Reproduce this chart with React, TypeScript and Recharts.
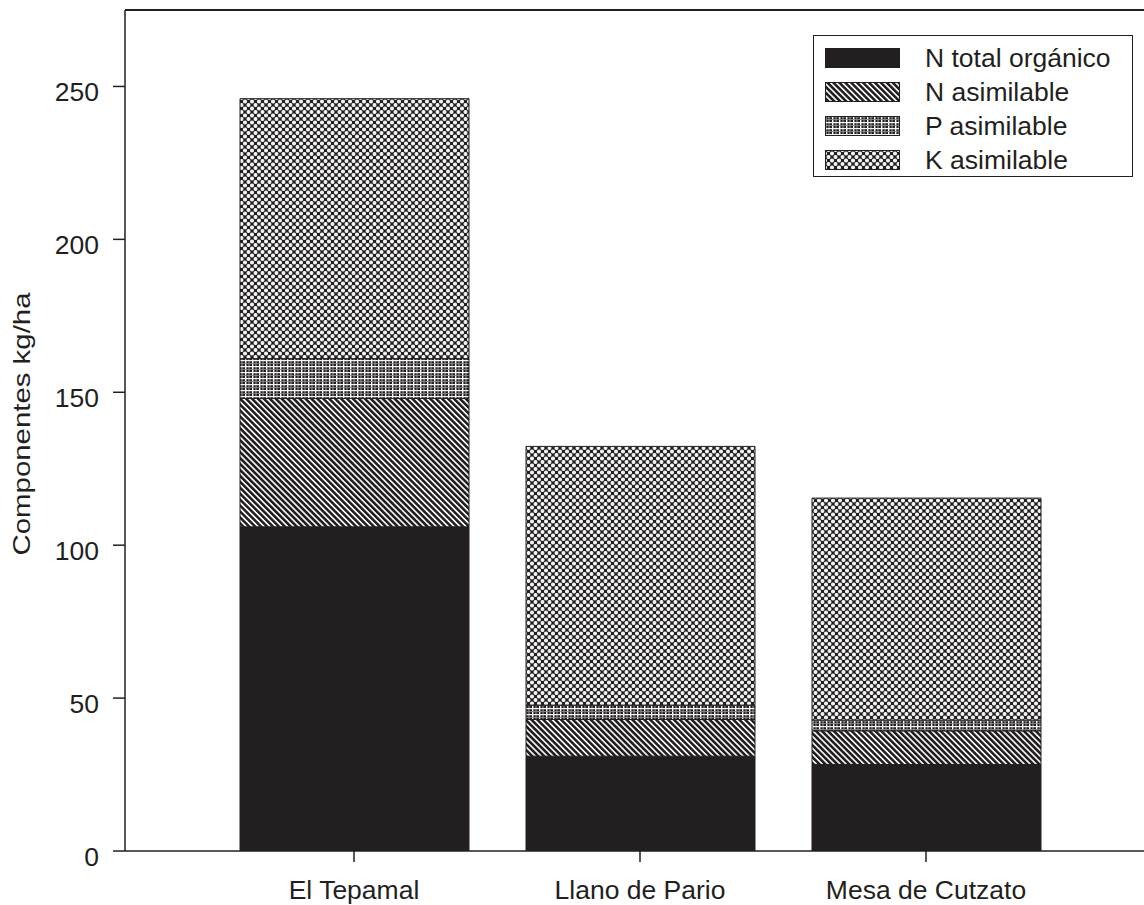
import React from "react";
import {
  BarChart,
  Bar,
  XAxis,
  YAxis,
  ReferenceLine,
} from "recharts";

const categories = ["El Tepamal", "Llano de Pario", "Mesa de Cutzato"];
const nTotalOrganico = [106, 31, 28.3];
const nAsimilable = [42, 12, 11];
const pAsimilable = [13, 4.7, 3.5];
const kAsimilable = [85, 84.6, 72.6];
const yTicks = [0, 50, 100, 150, 200, 250];

const seriesNames = ["N total orgánico", "N asimilable", "P asimilable", "K asimilable"];

const data = categories.map((c, i) => ({
  name: c,
  nTotal: nTotalOrganico[i],
  nAsim: nAsimilable[i],
  pAsim: pAsimilable[i],
  kAsim: kAsimilable[i],
}));

const INK = "#231f20";
const FONT = "'Liberation Sans', Arial, Helvetica, sans-serif";
const FS = 26.5;

const fills = ["url(#patSolid)", "url(#patStripe)", "url(#patPlaid)", "url(#patDots)"];

const PatternDefs = () => (
  <svg width={0} height={0} style={{ position: "absolute" }}>
    <defs>
      <pattern id="patSolid" patternUnits="userSpaceOnUse" width={4} height={4}>
        <rect width={4} height={4} fill={INK} />
      </pattern>
      <pattern
        id="patStripe"
        patternUnits="userSpaceOnUse"
        width={4.2}
        height={10}
        patternTransform="rotate(-45)"
      >
        <rect width={4.2} height={10} fill="#ffffff" />
        <rect x={0} width={2.6} height={10} fill={INK} />
      </pattern>
      <pattern id="patPlaid" patternUnits="userSpaceOnUse" width={7} height={6}>
        <rect width={7} height={6} fill={INK} />
        <rect x={0} y={0} width={1.4} height={6} fill="#ffffff" />
        <rect x={3.5} y={0} width={1} height={6} fill="#a0a0a0" />
        <rect x={0} y={0} width={7} height={1.2} fill="#f4f4f4" />
        <rect x={0} y={3} width={7} height={0.9} fill="#8a8a8a" />
      </pattern>
      <pattern id="patDots" patternUnits="userSpaceOnUse" width={7} height={7}>
        <rect width={7} height={7} fill="#f2f2f2" />
        <path d="M0,0 L7,7 M7,0 L0,7" stroke="#3a3a3a" strokeWidth={1.2} />
        <rect x={-1.5} y={-1.5} width={3} height={3} fill={INK} />
        <rect x={5.5} y={-1.5} width={3} height={3} fill={INK} />
        <rect x={-1.5} y={5.5} width={3} height={3} fill={INK} />
        <rect x={5.5} y={5.5} width={3} height={3} fill={INK} />
        <rect x={2} y={2} width={3} height={3} fill={INK} />
      </pattern>
    </defs>
  </svg>
);

const YTick = (props: any) => {
  const { y, payload } = props;
  return (
    <text
      x={99}
      y={y + 14.5}
      textAnchor="end"
      fontSize={FS}
      fontFamily={FONT}
      fill={INK}
    >
      {payload.value}
    </text>
  );
};

const XTick = (props: any) => {
  const { x, y, payload } = props;
  return (
    <text
      x={x}
      y={y + 35}
      textAnchor="middle"
      fontSize={FS}
      fontFamily={FONT}
      fill={INK}
    >
      {payload.value}
    </text>
  );
};

const YLabel = () => (
  <text
    x={30}
    y={424}
    transform="rotate(-90, 30, 424)"
    textAnchor="middle"
    fontSize={24}
    fontFamily={FONT}
    fill={INK}
    textLength={263}
    lengthAdjust="spacingAndGlyphs"
  >
    Componentes kg/ha
  </text>
);

const LegendBox = () => (
  <div
    style={{
      position: "absolute",
      left: 813,
      top: 35,
      width: 320,
      height: 142,
      boxSizing: "border-box",
      border: `1.5px solid ${INK}`,
      background: "#ffffff",
      fontFamily: FONT,
      fontSize: FS,
      color: INK,
    }}
  >
    {seriesNames.map((n, i) => (
      <div
        key={n}
        style={{
          position: "absolute",
          left: 11,
          top: 11 + i * 34,
          height: 22,
          display: "flex",
          alignItems: "center",
          whiteSpace: "nowrap",
        }}
      >
        <svg width={75} height={20} style={{ display: "block" }}>
          <rect
            x={0.5}
            y={0.5}
            width={74}
            height={19}
            fill={fills[i]}
            stroke={INK}
            strokeWidth={1}
          />
        </svg>
        <span style={{ marginLeft: 25, lineHeight: "22px" }}>{n}</span>
      </div>
    ))}
  </div>
);

export default function App() {
  return (
    <div
      style={{
        position: "absolute",
        left: 0,
        top: 0,
        width: 1144,
        height: 905,
        background: "#ffffff",
        overflow: "hidden",
      }}
    >
      <PatternDefs />
      <BarChart
        width={1144}
        height={905}
        data={data}
        margin={{ top: 10, right: 0, bottom: 0, left: 0 }}
        barSize={229}
      >
        <XAxis
          dataKey="name"
          height={54}
          padding={{ left: 86, right: 75 }}
          tick={<XTick />}
          tickSize={11}
          tickLine={{ stroke: INK, strokeWidth: 1.5 }}
          axisLine={{ stroke: INK, strokeWidth: 1.5 }}
          interval={0}
        />
        <YAxis
          width={125}
          domain={[0, 275]}
          ticks={yTicks}
          allowDataOverflow
          tick={<YTick />}
          tickSize={12}
          tickLine={{ stroke: INK, strokeWidth: 1.5 }}
          axisLine={{ stroke: INK, strokeWidth: 1.5 }}
          label={<YLabel />}
        />
        <ReferenceLine y={275} stroke={INK} strokeWidth={2} />
        <Bar dataKey="nTotal" name={seriesNames[0]} stackId="a" fill={fills[0]} stroke={INK} strokeWidth={1} isAnimationActive={false} />
        <Bar dataKey="nAsim" name={seriesNames[1]} stackId="a" fill={fills[1]} stroke={INK} strokeWidth={1} isAnimationActive={false} />
        <Bar dataKey="pAsim" name={seriesNames[2]} stackId="a" fill={fills[2]} stroke={INK} strokeWidth={1} isAnimationActive={false} />
        <Bar dataKey="kAsim" name={seriesNames[3]} stackId="a" fill={fills[3]} stroke={INK} strokeWidth={1} isAnimationActive={false} />
      </BarChart>
      <LegendBox />
    </div>
  );
}
